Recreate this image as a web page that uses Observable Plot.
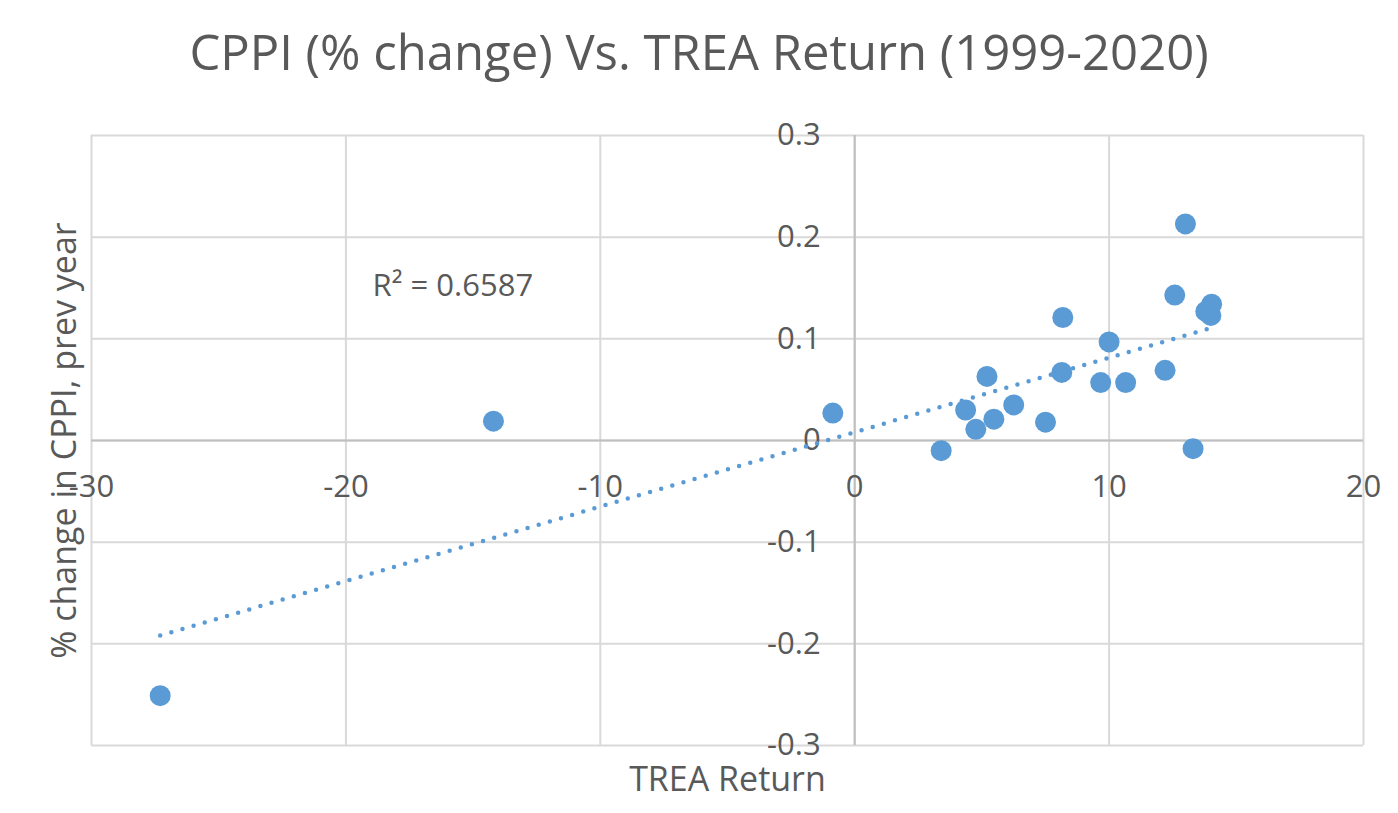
<!DOCTYPE html>
<html>
<head>
<meta charset="utf-8">
<script src="https://cdn.jsdelivr.net/npm/d3@7"></script>
<script src="https://cdn.jsdelivr.net/npm/@observablehq/plot@0.6"></script>
<style>
  html, body { margin: 0; padding: 0; background: #fff; }
  #title { height: 100px; line-height: 102px; text-align: center; font-family: "Open Sans", sans-serif; font-size: 49px; color: #595959; white-space: nowrap; overflow: visible; }
  #chart svg { display: block; }
</style>
</head>
<body>
<div id="title">CPPI (% change) Vs. TREA Return (1999-2020)</div>
<div id="chart"></div>
<script>
const treaReturn = [-27.3, -14.2, -0.86, 3.4, 4.36, 4.76, 5.2, 5.47, 6.25, 7.5, 8.18, 8.14, 9.67, 10.0, 10.65, 12.2, 12.58, 13.0, 13.3, 13.8, 14.03, 14.0];
const cppiChange = [-0.251, 0.019, 0.027, -0.010, 0.030, 0.011, 0.063, 0.021, 0.035, 0.018, 0.121, 0.067, 0.057, 0.097, 0.057, 0.069, 0.143, 0.213, -0.008, 0.127, 0.134, 0.123];
const xTicks = [-30, -20, -10, 0, 10, 20];
const yTicks = [-0.3, -0.2, -0.1, 0, 0.1, 0.2, 0.3];
const yTickLabels = ["-0.3", "-0.2", "-0.1", "0", "0.1", "0.2", "0.3"];
const r2Label = "R² = 0.6587";
const r2Pos = {x: -18.95, y: 0.152};

const data = treaReturn.map((x, i) => ({x, y: cppiChange[i]}));
const blue = "#5B9BD5";
const grey = "#595959";
const font = "'Open Sans', sans-serif";

const chart = Plot.plot({
  width: 1398,
  height: 713,
  marginLeft: 91,
  marginRight: 35,
  marginTop: 35,
  marginBottom: 68,
  style: {fontFamily: font, background: "#fff", overflow: "visible"},
  x: {domain: [-30, 20], axis: null},
  y: {domain: [-0.3, 0.3], axis: null},
  marks: [
    Plot.gridX(xTicks, {stroke: "#d9d9d9", strokeOpacity: 1, strokeWidth: 2}),
    Plot.gridY(yTicks, {stroke: "#d9d9d9", strokeOpacity: 1, strokeWidth: 2}),
    Plot.ruleX([0], {stroke: "#bfbfbf", strokeWidth: 2}),
    Plot.ruleY([0], {stroke: "#bfbfbf", strokeWidth: 2}),
    Plot.text(xTicks, {x: d => d, y: 0, dy: 47, text: d => String(d), fill: grey, fontSize: 31}),
    Plot.text(yTicks, {x: 0, y: d => d, dx: -34, text: (d, i) => yTickLabels[i], textAnchor: "end", fill: grey, fontSize: 31}),
    Plot.linearRegressionY(data, {x: "x", y: "y", ci: 0, stroke: blue, strokeWidth: 4.5, strokeDasharray: "0 11.6", strokeLinecap: "round"}),
    Plot.dot(data, {x: "x", y: "y", r: 10.5, fill: blue, stroke: "none"}),
    Plot.text([r2Label], {x: r2Pos.x, y: r2Pos.y, textAnchor: "start", fill: grey, fontSize: 31}),
    Plot.text(["TREA Return"], {frameAnchor: "bottom", dy: 35, textAnchor: "middle", lineAnchor: "middle", fill: grey, fontSize: 34}),
    Plot.text(["% change in CPPI, prev year"], {frameAnchor: "left", dx: -26, textAnchor: "middle", rotate: -90, fill: grey, fontSize: 34})
  ]
});
document.getElementById("chart").appendChild(chart);
</script>
</body>
</html>
